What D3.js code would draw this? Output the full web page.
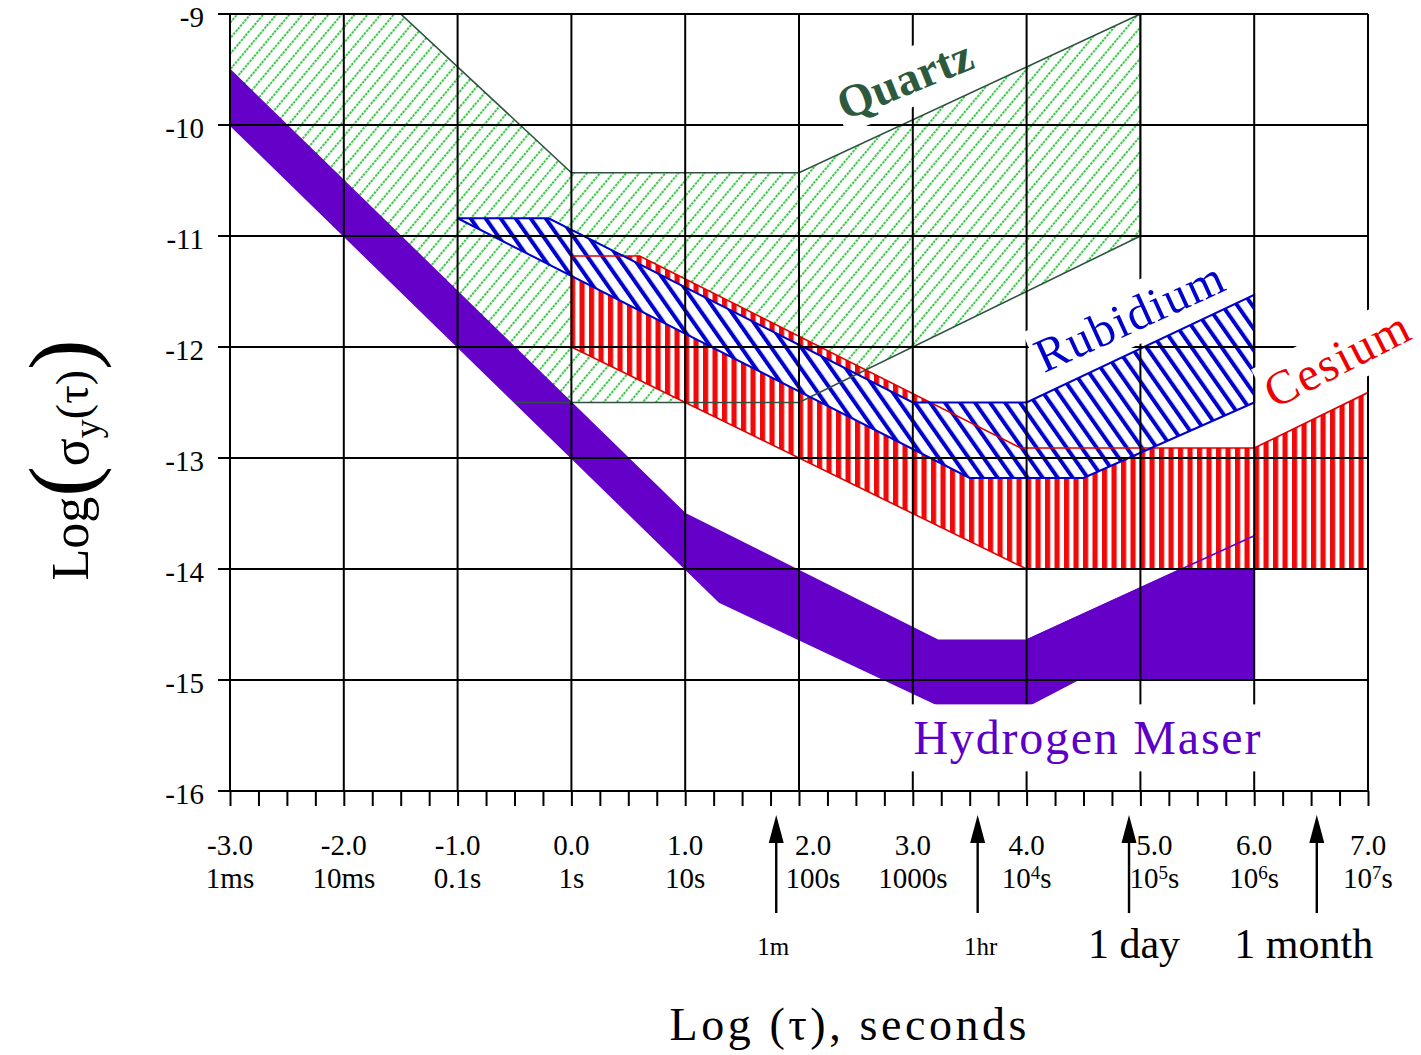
<!DOCTYPE html>
<html>
<head>
<meta charset="utf-8">
<script src="https://cdn.jsdelivr.net/npm/d3@7"></script>
<style>
  body { margin: 0; background: #fff; }
  text { font-family: "Liberation Serif", "Times New Roman", serif; }
</style>
</head>
<body>
<div class="chart"></div>
<script>
// x = log(tau) in seconds, y = log(sigma_y(tau))
const xTicks = [-3, -2, -1, 0, 1, 2, 3, 4, 5, 6, 7];
const xTickLabels = ["-3.0", "-2.0", "-1.0", "0.0", "1.0", "2.0", "3.0", "4.0", "5.0", "6.0", "7.0"];
const xUnitLabels = ["1ms", "10ms", "0.1s", "1s", "10s", "100s", "1000s", "10^4s", "10^5s", "10^6s", "10^7s"];
const yTicks = [-9, -10, -11, -12, -13, -14, -15, -16];

// arrows under the axis
const arrowX = [1.8, 3.57, 4.9, 6.55];
const arrowLabels = ["1m", "1hr", "1 day", "1 month"];

// stability regions, [log tau, log sigma]
const quartz = [[-3, -9], [-1.5, -9], [0, -10.43], [2, -10.43], [5, -9], [5, -11],
  [2, -12.5], [-0.5, -12.5], [-3, -10]];
const rubidium = [[-1, -10.84], [-0.2, -10.84], [3, -12.5], [4, -12.5], [6, -11.53],
  [6, -12.5], [4.5, -13.18], [3.5, -13.18]];
const cesium = [[0, -11.18], [0.6, -11.18], [3.95, -12.91], [6, -12.91], [7, -12.41],
  [7, -14], [4, -14], [0, -12]];
const maser = [[-3, -9.5], [1, -13.5], [3.22, -14.64], [4, -14.64], [6, -13.7], [6, -15],
  [4.45, -15], [4, -15.24], [3.25, -15.24], [1.3, -14.3], [-3, -10]];

const seriesNames = ["Quartz", "Rubidium", "Cesium", "Hydrogen Maser"];

const svg = d3.select(".chart").append("svg")
  .attr("width", 1421)
  .attr("height", 1055)
  .style("background", "#fff");

const x = d3.scaleLinear().domain([-3, 7]).range([230, 1368]);
const y = d3.scaleLinear().domain([-9, -16]).range([14, 791]);

const defs = svg.append("defs");
defs.append("clipPath").attr("id", "plot")
  .append("rect")
  .attr("x", x(-3)).attr("y", y(-9))
  .attr("width", x(7) - x(-3)).attr("height", y(-16) - y(-9));

// ---- hatch patterns ----
function stripes(id, period, w, color, angle) {
  const p = defs.append("pattern")
    .attr("id", id)
    .attr("patternUnits", "userSpaceOnUse")
    .attr("width", period).attr("height", period)
    .attr("patternTransform", `rotate(${angle})`);
  p.append("rect").attr("width", period).attr("height", period).attr("fill", "#fff");
  p.append("rect").attr("width", w).attr("height", period).attr("fill", color);
}
stripes("cs", 9.5, 5.2, "#ee0a0a", 0);
stripes("rb", 12.3, 4, "#0000cc", -35);

const qp = defs.append("pattern")
  .attr("id", "qz")
  .attr("patternUnits", "userSpaceOnUse")
  .attr("width", 10).attr("height", 10.5)
  .attr("patternTransform", "rotate(40)");
qp.append("rect").attr("width", 10).attr("height", 10.5).attr("fill", "#fff");
qp.append("line")
  .attr("x1", 1).attr("x2", 1).attr("y1", 0).attr("y2", 10.5)
  .attr("stroke", "#2fc63f").attr("stroke-width", 2)
  .attr("stroke-dasharray", "2.4 1.1");

const line = d3.line().x(d => x(d[0])).y(d => y(d[1]));
const area = svg.append("g").attr("clip-path", "url(#plot)");

// fills
area.append("path").attr("d", line(quartz) + "Z").attr("fill", "url(#qz)");
area.append("path").attr("d", line(maser) + "Z")
  .attr("fill", "#6400c8").attr("stroke", "#6400c8").attr("stroke-width", 1.3);
area.append("path").attr("d", line(cesium) + "Z").attr("fill", "url(#cs)");
area.append("path").attr("d", line(rubidium) + "Z").attr("fill", "url(#rb)");

// outlines
area.append("path")
  .attr("d", line(quartz.slice(0, 8)))
  .attr("fill", "none").attr("stroke", "#2f5140").attr("stroke-width", 1.6);
area.append("path")
  .attr("d", line(maser.slice(3, 6)))
  .attr("fill", "none").attr("stroke", "#6400c8").attr("stroke-width", 1.5);
area.append("path").attr("d", line(cesium) + "Z")
  .attr("fill", "none").attr("stroke", "#e00000").attr("stroke-width", 1.6);
area.append("path").attr("d", line(rubidium) + "Z")
  .attr("fill", "none").attr("stroke", "#0000cc").attr("stroke-width", 2);

// ---- grid ----
const grid = svg.append("g").attr("stroke", "#000");
grid.selectAll(".vx").data(xTicks).join("line")
  .attr("x1", d => x(d)).attr("x2", d => x(d))
  .attr("y1", y(-9)).attr("y2", y(-16))
  .attr("stroke-width", 2);
grid.selectAll(".hy").data(yTicks).join("line")
  .attr("x1", x(-3) - 12).attr("x2", x(7))
  .attr("y1", d => y(d)).attr("y2", d => y(d))
  .attr("stroke-width", 2.2);

// minor ticks along the bottom
svg.append("g")
  .attr("transform", `translate(0,${y(-16)})`)
  .call(d3.axisBottom(x).tickValues(d3.range(-3, 7.001, 0.25)).tickSize(15).tickFormat(""))
  .call(g => g.select(".domain").remove())
  .selectAll("line").attr("stroke", "#000").attr("stroke-width", 2);

// y tick labels
svg.append("g")
  .attr("transform", `translate(${x(-3)},0)`)
  .call(d3.axisLeft(y).tickValues(yTicks).tickSize(0).tickPadding(26).tickFormat(d => String(d)))
  .call(g => g.select(".domain").remove())
  .selectAll("text")
  .attr("font-family", "Liberation Serif, Times New Roman, serif")
  .attr("font-size", 29)
  .attr("dy", "0.42em")
  .attr("fill", "#000");

// x tick labels (two rows)
const xl = svg.append("g").attr("font-size", 29).attr("text-anchor", "middle");
xTicks.forEach((t, i) => {
  const near = arrowX.some(a => t - a > 0 && t - a < 0.25);
  const cx = x(t) + (near ? 14 : 0);
  xl.append("text").attr("x", cx).attr("y", 855).text(xTickLabels[i]);
  const m = xUnitLabels[i].match(/^(\d+)\^(\d+)(\w+)$/);
  const u = xl.append("text").attr("x", cx).attr("y", 888);
  if (m) {
    u.append("tspan").text(m[1]);
    u.append("tspan").attr("font-size", 19).attr("dy", -9).text(m[2]);
    u.append("tspan").attr("dy", 9).text(m[3]);
  } else {
    u.text(xUnitLabels[i]);
  }
});

// arrows marking 1m, 1hr, 1 day, 1 month
const bigArrowLabel = new Set(["1 day", "1 month"]);
const arrowLabelShift = { "1m": -3, "1hr": 3, "1 day": 5, "1 month": -13 };
arrowX.forEach((a, i) => {
  const ax = x(a);
  svg.append("line")
    .attr("x1", ax).attr("x2", ax).attr("y1", 913).attr("y2", 838)
    .attr("stroke", "#000").attr("stroke-width", 2.4);
  svg.append("path")
    .attr("d", `M${ax},815L${ax - 7.5},843L${ax + 7.5},843Z`)
    .attr("fill", "#000");
  const big = bigArrowLabel.has(arrowLabels[i]);
  svg.append("text")
    .attr("x", ax + arrowLabelShift[arrowLabels[i]]).attr("y", big ? 958 : 955)
    .attr("text-anchor", "middle")
    .attr("font-size", big ? 42 : 25)
    .text(arrowLabels[i]);
});

// ---- series labels with white boxes ----
function seriesLabel(text, cx, cy, angle, size, color, len, weight, pad) {
  const g = svg.append("g").attr("transform", `translate(${cx},${cy}) rotate(${angle})`);
  const r = g.append("rect").attr("fill", "#fff");
  const t = g.append("text")
    .attr("text-anchor", "middle")
    .attr("font-size", size)
    .attr("font-weight", weight)
    .attr("fill", color)
    .attr("textLength", len)
    .attr("lengthAdjust", "spacing")
    .text(text);
  const b = t.node().getBBox();
  r.attr("x", b.x - pad).attr("y", b.y - pad)
    .attr("width", b.width + 2 * pad).attr("height", b.height + 2 * pad);
}
seriesLabel(seriesNames[0], x(2.98), y(-9.72), -22, 46, "#2d5a3c", 142, "bold", 3);
seriesLabel(seriesNames[1], x(4.96), y(-11.86), -24.5, 48, "#0000cc", 202, "normal", 3);
seriesLabel(seriesNames[2], x(6.79), y(-12.24), -27, 48, "#ee0000", 156, "normal", 3);
seriesLabel(seriesNames[3], x(4.53), y(-15.67), 0, 48, "#5c00c8", 347, "normal", 7);

// ---- axis titles ----
svg.append("text")
  .attr("x", 848).attr("y", 1040)
  .attr("text-anchor", "middle")
  .attr("font-size", 46)
  .attr("textLength", 357)
  .attr("lengthAdjust", "spacing")
  .text("Log (τ), seconds");

const yt = svg.append("text")
  .attr("transform", "translate(88,460) rotate(-90)")
  .attr("text-anchor", "middle")
  .attr("font-size", 52);
yt.append("tspan").text("Log");
yt.append("tspan").attr("font-size", 92).attr("dy", 4).attr("font-weight", 300).text("(");
yt.append("tspan").attr("dy", -4).text("σ");
yt.append("tspan").attr("font-size", 38).attr("dy", 12).text("y");
yt.append("tspan").attr("font-size", 46).attr("dy", -12).text("(τ)");
yt.append("tspan").attr("font-size", 92).attr("dy", 4).attr("font-weight", 300).text(")");
</script>
</body>
</html>
